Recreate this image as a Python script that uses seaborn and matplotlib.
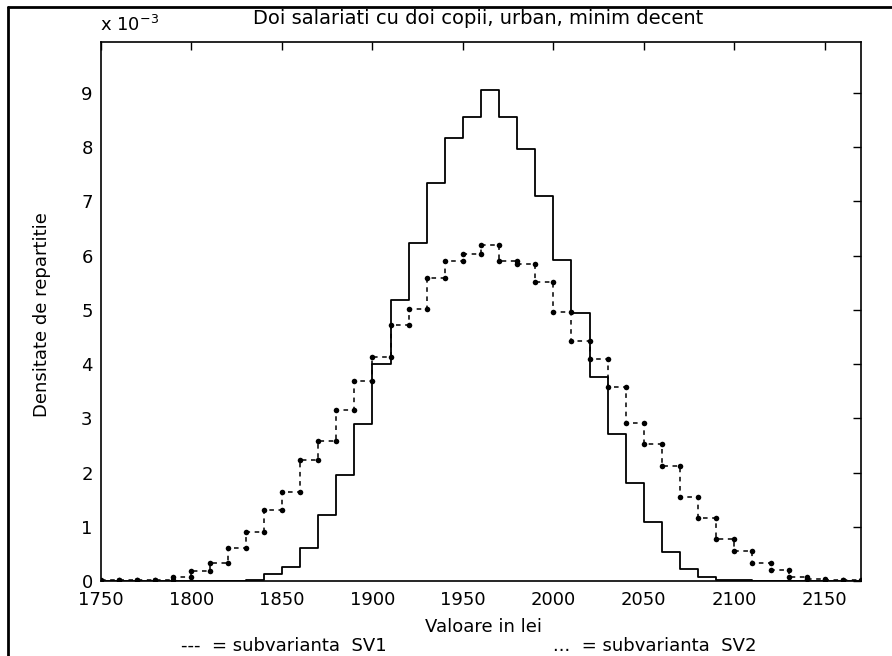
import numpy as np
import pandas as pd
import matplotlib
matplotlib.use("Agg")
import matplotlib.pyplot as plt
import seaborn as sns
from matplotlib.lines import Line2D
from matplotlib.ticker import FuncFormatter

# bin start values (lei), step 10
x_vals = list(range(1750, 2180, 10))

# densities, in units of 1e-3
sv1 = [0, 0, 0, 0, 0, 0, 0, 0, 0.02, 0.13,
       0.26, 0.6, 1.22, 1.95, 2.9, 4.0, 5.18, 6.24, 7.34, 8.17,
       8.55, 9.06, 8.55, 7.96, 7.10, 5.92, 4.94, 3.76, 2.72, 1.80,
       1.08, 0.54, 0.22, 0.08, 0.02, 0.02, 0, 0, 0, 0,
       0, 0, 0]
sv2 = [0.02, 0.01, 0.01, 0.02, 0.08, 0.18, 0.34, 0.6, 0.9, 1.31,
       1.64, 2.23, 2.59, 3.15, 3.68, 4.13, 4.72, 5.01, 5.58, 5.90,
       6.03, 6.19, 5.90, 5.84, 5.52, 4.96, 4.42, 4.10, 3.57, 2.91,
       2.53, 2.12, 1.55, 1.17, 0.78, 0.55, 0.34, 0.2, 0.08, 0.03,
       0.02, 0.01, 0.0]

x_ticks = list(range(1750, 2200, 50))
y_ticks = list(range(0, 10))

title = "Doi salariati cu doi copii, urban, minim decent"
x_label = "Valoare in lei"
y_label = "Densitate de repartitie"
note_sv1 = "---  = subvarianta  SV1"
note_sv2 = "...  = subvarianta  SV2"


def stairs(x, y):
    # vertices of a matlab-like stairs plot
    xs, ys = [], []
    for i in range(len(x)):
        if i > 0:
            xs.append(x[i])
            ys.append(y[i - 1])
        xs.append(x[i])
        ys.append(y[i])
    return pd.DataFrame({"x": xs, "y": np.array(ys) * 1e-3})


sns.set_style("white")
plt.rcParams["font.family"] = ["DejaVu Sans"]
plt.rcParams["text.color"] = "black"
plt.rcParams["axes.labelcolor"] = "black"

fig = plt.figure(figsize=(8.92, 6.56), dpi=100)
ax = fig.add_axes([101 / 892, 1 - 581 / 656, 760 / 892, 539 / 656])

d1 = stairs(x_vals, sv1)
d2 = stairs(x_vals, sv2)

sns.lineplot(data=d1, x="x", y="y", ax=ax, sort=False, estimator=None,
             color="black", linewidth=1.3)
sns.lineplot(data=d2, x="x", y="y", ax=ax, sort=False, estimator=None,
             color="black", linewidth=1.1, linestyle=(0, (3, 3)),
             marker="o", markersize=4, markeredgewidth=0)

ax.set_xlim(1750, 2170)
ax.set_ylim(0, 9.94e-3)
ax.set_xticks(x_ticks)
ax.set_yticks([t * 1e-3 for t in y_ticks])
ax.yaxis.set_major_formatter(FuncFormatter(lambda v, p: f"{v * 1e3:.0f}"))
ax.tick_params(direction="in", length=6, width=1, top=True, right=True,
               labelsize=13, colors="black", labelcolor="black", pad=6)
ax.tick_params(axis="x", pad=7)
for s in ax.spines.values():
    s.set_color("black")
    s.set_linewidth(1.2)

ax.set_xlabel(x_label, fontsize=13)
ax.xaxis.set_label_coords(383 / 760, -37 / 539)
ax.set_ylabel(y_label, fontsize=13)
ax.yaxis.set_label_coords(-50 / 760, 266 / 539)

fig.text(478 / 892, 1 - 18 / 656, title, fontsize=14, ha="center", va="center")
fig.text(100 / 892, 1 - 25 / 656, "x 10$^{-3}$", fontsize=13, va="center")
fig.text(284 / 892, 1 - 646 / 656, note_sv1, fontsize=13, ha="center", va="center")
fig.text(655 / 892, 1 - 646 / 656, note_sv2, fontsize=13, ha="center", va="center")

# frame of the original figure window (only top and left visible)
fig.add_artist(Line2D([8 / 892, 8 / 892], [-0.1, 1 - 7 / 656],
                      transform=fig.transFigure, color="black", linewidth=2))
fig.add_artist(Line2D([8 / 892, 1.1], [1 - 7 / 656, 1 - 7 / 656],
                      transform=fig.transFigure, color="black", linewidth=2))

fig.savefig("out.png", dpi=100)
